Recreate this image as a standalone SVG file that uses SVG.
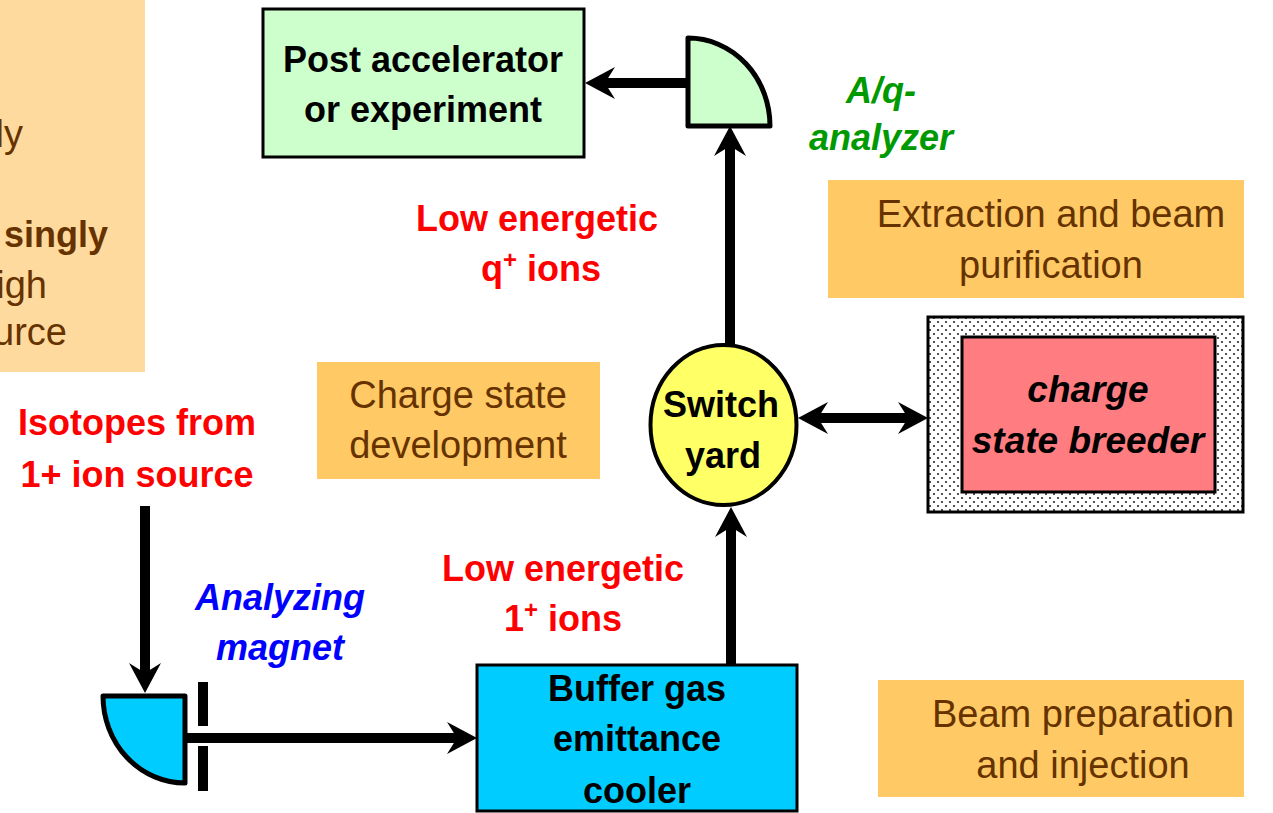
<svg xmlns="http://www.w3.org/2000/svg" width="1273" height="813" viewBox="0 0 1273 813">
<style>
.lbl{font-family:"Liberation Sans",Arial,sans-serif;font-weight:bold;font-size:36px;text-anchor:middle}
.note{font-family:"Liberation Sans",Arial,sans-serif;font-size:38px;fill:#663300;text-anchor:middle}
.red{fill:#FF0000}
.blk{fill:#000000}
.it{font-style:italic}
.box{stroke:#000;stroke-width:3}
.wire{fill:none;stroke:#000;stroke-width:10}
</style>
<defs>
<marker id="ah" markerUnits="userSpaceOnUse" markerWidth="32" markerHeight="34" viewBox="0 0 32 34" refX="10" refY="17" orient="auto-start-reverse">
<path d="M0,1 L30,17 L0,33 L10,17 Z" fill="#000"/>
</marker>
<pattern id="dots" patternUnits="userSpaceOnUse" width="8" height="8">
<rect width="8" height="8" fill="#fff"/>
<circle cx="2" cy="2" r="0.9" fill="#000"/>
<circle cx="6" cy="6" r="0.9" fill="#000"/>
</pattern>
</defs>

<g id="note-source">
<rect x="0" y="0" width="145" height="372" fill="#FFDA9E"/>
<text class="note" style="text-anchor:end" x="23" y="147">ly</text>
<text class="note" style="text-anchor:end;font-weight:bold;font-size:36px" x="108" y="247">singly</text>
<text class="note" style="text-anchor:end" x="47" y="298">igh</text>
<text class="note" style="text-anchor:end" x="67" y="345">urce</text>
</g>

<g id="note-charge">
<rect x="317" y="362" width="283" height="117" fill="#FFCA66"/>
<text class="note" x="458" y="408">Charge state</text>
<text class="note" x="458" y="458">development</text>
</g>

<g id="note-extraction">
<rect x="828" y="180" width="416" height="118" fill="#FFCA66"/>
<text class="note" x="1051" y="227">Extraction and beam</text>
<text class="note" x="1051" y="278">purification</text>
</g>

<g id="note-prep">
<rect x="878" y="680" width="366" height="117" fill="#FFCA66"/>
<text class="note" x="1083" y="727">Beam preparation</text>
<text class="note" x="1083" y="778">and injection</text>
</g>

<g id="connectors">
<path class="wire" d="M145,506 L145,673" marker-end="url(#ah)"/>
<path class="wire" d="M185,738 L457,738" marker-end="url(#ah)"/>
<path class="wire" d="M731,665 L731,527" marker-end="url(#ah)"/>
<path class="wire" d="M730,345 L730,146" marker-end="url(#ah)"/>
<path class="wire" d="M688,83 L605,83" marker-end="url(#ah)"/>
<path class="wire" d="M818,418 L908,418" marker-start="url(#ah)" marker-end="url(#ah)"/>
</g>

<g id="post-accelerator">
<rect class="box" x="263" y="9" width="321" height="148" fill="#CCFFCC"/>
<text class="lbl blk" x="423" y="72">Post accelerator</text>
<text class="lbl blk" x="423" y="122">or experiment</text>
</g>

<g id="aq-analyzer">
<path d="M688,38 L688,126 L770,126 A82,88 0 0 0 688,38 Z" fill="#CCFFCC" stroke="#000" stroke-width="5" stroke-linejoin="round"/>
<text class="lbl it" fill="#009900" x="881" y="103">A/q-</text>
<text class="lbl it" fill="#009900" x="881" y="150">analyzer</text>
</g>

<g id="label-q-ions">
<text class="lbl red" x="537" y="231">Low energetic</text>
<text class="lbl red" x="541" y="281">q<tspan font-size="24" dy="-13">+</tspan><tspan dy="13"> ions</tspan></text>
</g>

<g id="switch-yard">
<ellipse cx="723.5" cy="425" rx="73" ry="80" fill="#FFFF66" stroke="#000" stroke-width="4"/>
<text class="lbl blk" x="721" y="417">Switch</text>
<text class="lbl blk" x="723" y="468">yard</text>
</g>

<g id="breeder">
<rect x="928" y="317" width="315" height="195" fill="url(#dots)" stroke="#000" stroke-width="3"/>
<rect class="box" x="962" y="337" width="253" height="155" fill="#FF7C80"/>
<text class="lbl blk it" x="1088" y="402" style="font-size:37px">charge</text>
<text class="lbl blk it" x="1088" y="453" style="font-size:37px">state breeder</text>
</g>

<g id="label-isotopes">
<text class="lbl red" x="137" y="435">Isotopes from</text>
<text class="lbl red" x="137" y="487">1+ ion source</text>
</g>

<g id="label-1-ions">
<text class="lbl red" x="563" y="581">Low energetic</text>
<text class="lbl red" x="563" y="631">1<tspan font-size="24" dy="-13">+</tspan><tspan dy="13"> ions</tspan></text>
</g>

<g id="analyzing-magnet">
<path d="M103,696 L185,696 L185,783 A82,87 0 0 1 103,696 Z" fill="#00CCFF" stroke="#000" stroke-width="5" stroke-linejoin="round"/>
<rect x="198" y="682" width="10" height="44" fill="#000"/>
<rect x="198" y="746" width="10" height="45" fill="#000"/>
<text class="lbl it" fill="#0000FF" x="280" y="610">Analyzing</text>
<text class="lbl it" fill="#0000FF" x="280" y="660">magnet</text>
</g>

<g id="buffer-gas-cooler">
<rect class="box" x="477" y="665" width="320" height="146" fill="#00CCFF"/>
<text class="lbl blk" x="637" y="701">Buffer gas</text>
<text class="lbl blk" x="637" y="751">emittance</text>
<text class="lbl blk" x="637" y="803">cooler</text>
</g>
</svg>
